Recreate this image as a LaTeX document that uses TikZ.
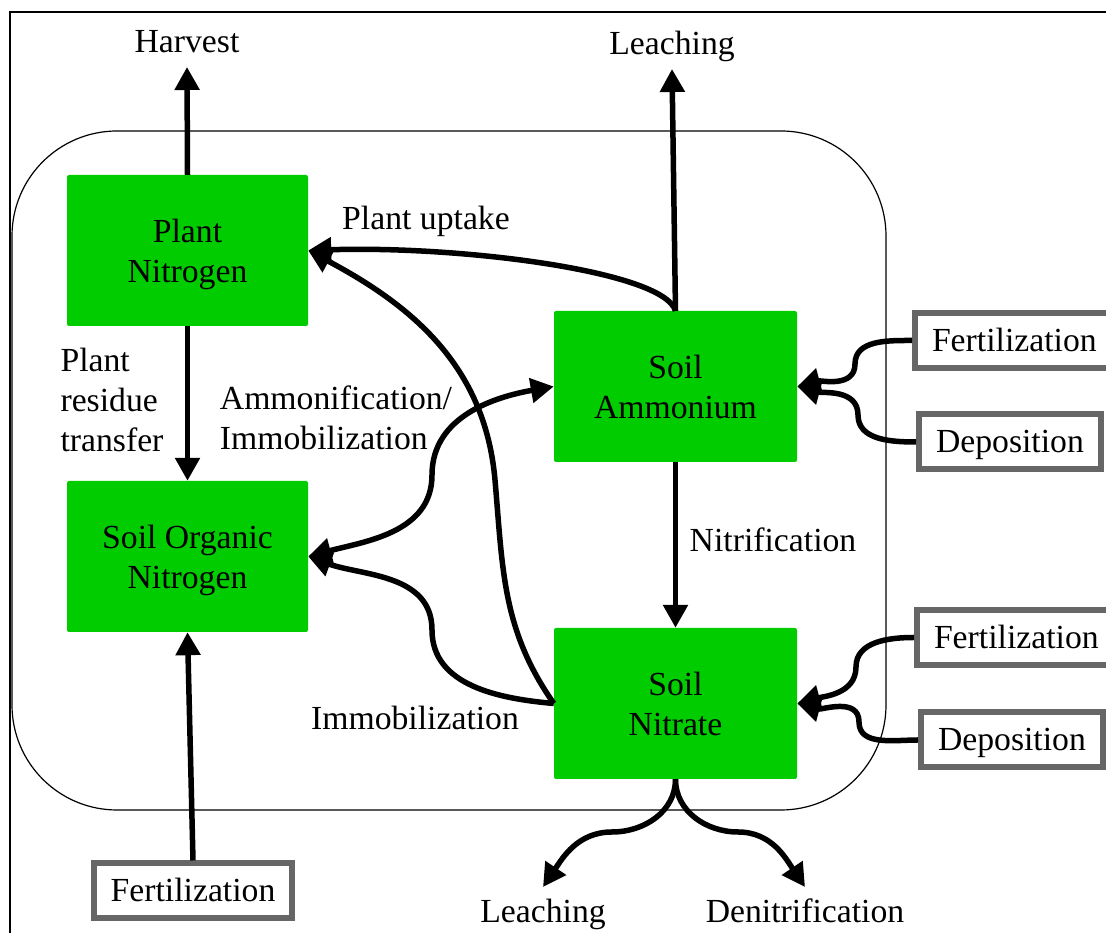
\documentclass[tikz,border=0pt]{standalone}
\usepackage{fontspec}
\setmainfont{Liberation Serif}
\usetikzlibrary{arrows.meta}

\definecolor{poolgreen}{RGB}{0,204,0}
\definecolor{srcgray}{RGB}{102,102,102}

\begin{document}
\begin{tikzpicture}[x=1pt, y=1pt,
    every node/.style={font=\fontsize{33.7}{40}\selectfont},
    >={Triangle[length=23pt,width=24pt]},
    pool/.style={fill=poolgreen, rounded corners=2pt, minimum width=241pt, minimum height=151pt, align=center, inner sep=0pt, text depth=-4pt},
    source/.style={draw=srcgray, line width=6pt, fill=white, inner xsep=17pt, inner ysep=0pt, minimum height=55pt, text height=22pt, text depth=0pt},
    sink/.style={anchor=base, text height=22pt, text depth=0pt, inner sep=0pt, outer sep=14pt},
    flow/.style={line width=5.5pt, ->}]
    \useasboundingbox (0,0) rectangle (1106,933);

    % Draw frame and soil region
    \draw[line width=1.5pt] (10,-30) rectangle (1140,921);
    \draw[line width=1.2pt, rounded corners=105pt] (12,123) rectangle (886,802);

    % Draw nitrogen pools
    \node[pool] (pn) at (187.5,682.5) {Plant\\Nitrogen};
    \node[pool] (son) at (187.5,376.5) {Soil Organic\\Nitrogen};
    \node[pool, minimum width=243pt] (sa) at (675.5,546.5) {Soil\\Ammonium};
    \node[pool, minimum width=243pt] (sn) at (675.5,229.5) {Soil\\Nitrate};

    % Draw external inputs
    \node[source, anchor=west] (fa) at (912,592.5) {Fertilization};
    \node[source, anchor=west] (da) at (916,491) {Deposition};
    \node[source, anchor=west] (fn) at (914,295.5) {Fertilization};
    \node[source, anchor=west] (dn) at (918,193) {Deposition};
    \node[source] (fo) at (193,42) {Fertilization};

    % Draw losses
    \node[sink] (harvest) at (187,880) {Harvest};
    \node[sink] (leacha) at (672,878) {Leaching};
    \node[sink] (leachn) at (543,10) {Leaching};
    \node[sink] (denit) at (805,10) {Denitrification};

    % Add process labels
    \node[anchor=base] (uptake) at (426,703) {Plant uptake};
    \node[align=left] (residue) at (112,533) {Plant\\residue\\transfer};
    \node[align=left] (ammon) at (336,515) {Ammonification/\\Immobilization};
    \node (immob) at (415,215) {Immobilization};
    \node (nitri) at (773,393) {Nitrification};

    % Draw straight flows
    \draw[flow] (pn.north) -- (harvest.south);
    \draw[flow] (sa.north) -- (leacha.south);
    \draw[flow] (pn.south) -- (son.north);
    \draw[flow] (sa.south) -- (sn.north);
    \draw[flow] (fo.north) -- (son.south);

    % Draw plant uptake
    \draw[flow] (sa.north) .. controls +(-12,40) and +(150,5) .. (pn.east);
    \draw[flow] (sn.west) to[out=125,in=-85] (495,453) to[out=95,in=-28] (pn.east);

    % Draw ammonification and immobilization
    \draw[line width=5.5pt, <->] (son.east) to[out=15,in=-90] (432,458) to[out=90,in=190] (sa.west);
    \draw[flow] (sn.west) to[out=175,in=-90] (432,303) to[out=90,in=-20] (son.east);

    % Draw inputs to mineral pools
    \draw[flow] (fa.west) to[out=180,in=90] (855,569) to[out=-90,in=15] (sa.east);
    \draw[flow] (da.west) to[out=180,in=-90] (858,518) to[out=90,in=-15] (sa.east);
    \draw[flow] (fn.west) to[out=180,in=90] (856,266) to[out=-90,in=15] (sn.east);
    \draw[flow] (dn.west) to[out=180,in=-90] (859,211) to[out=90,in=-15] (sn.east);

    % Draw nitrate losses
    \draw[flow] (sn.south) to[out=-90,in=0] (612,101) to[out=180,in=56] (leachn.north);
    \draw[flow] (sn.south) to[out=-90,in=180] (738,101) to[out=0,in=124] (denit.north);
\end{tikzpicture}
\end{document}
